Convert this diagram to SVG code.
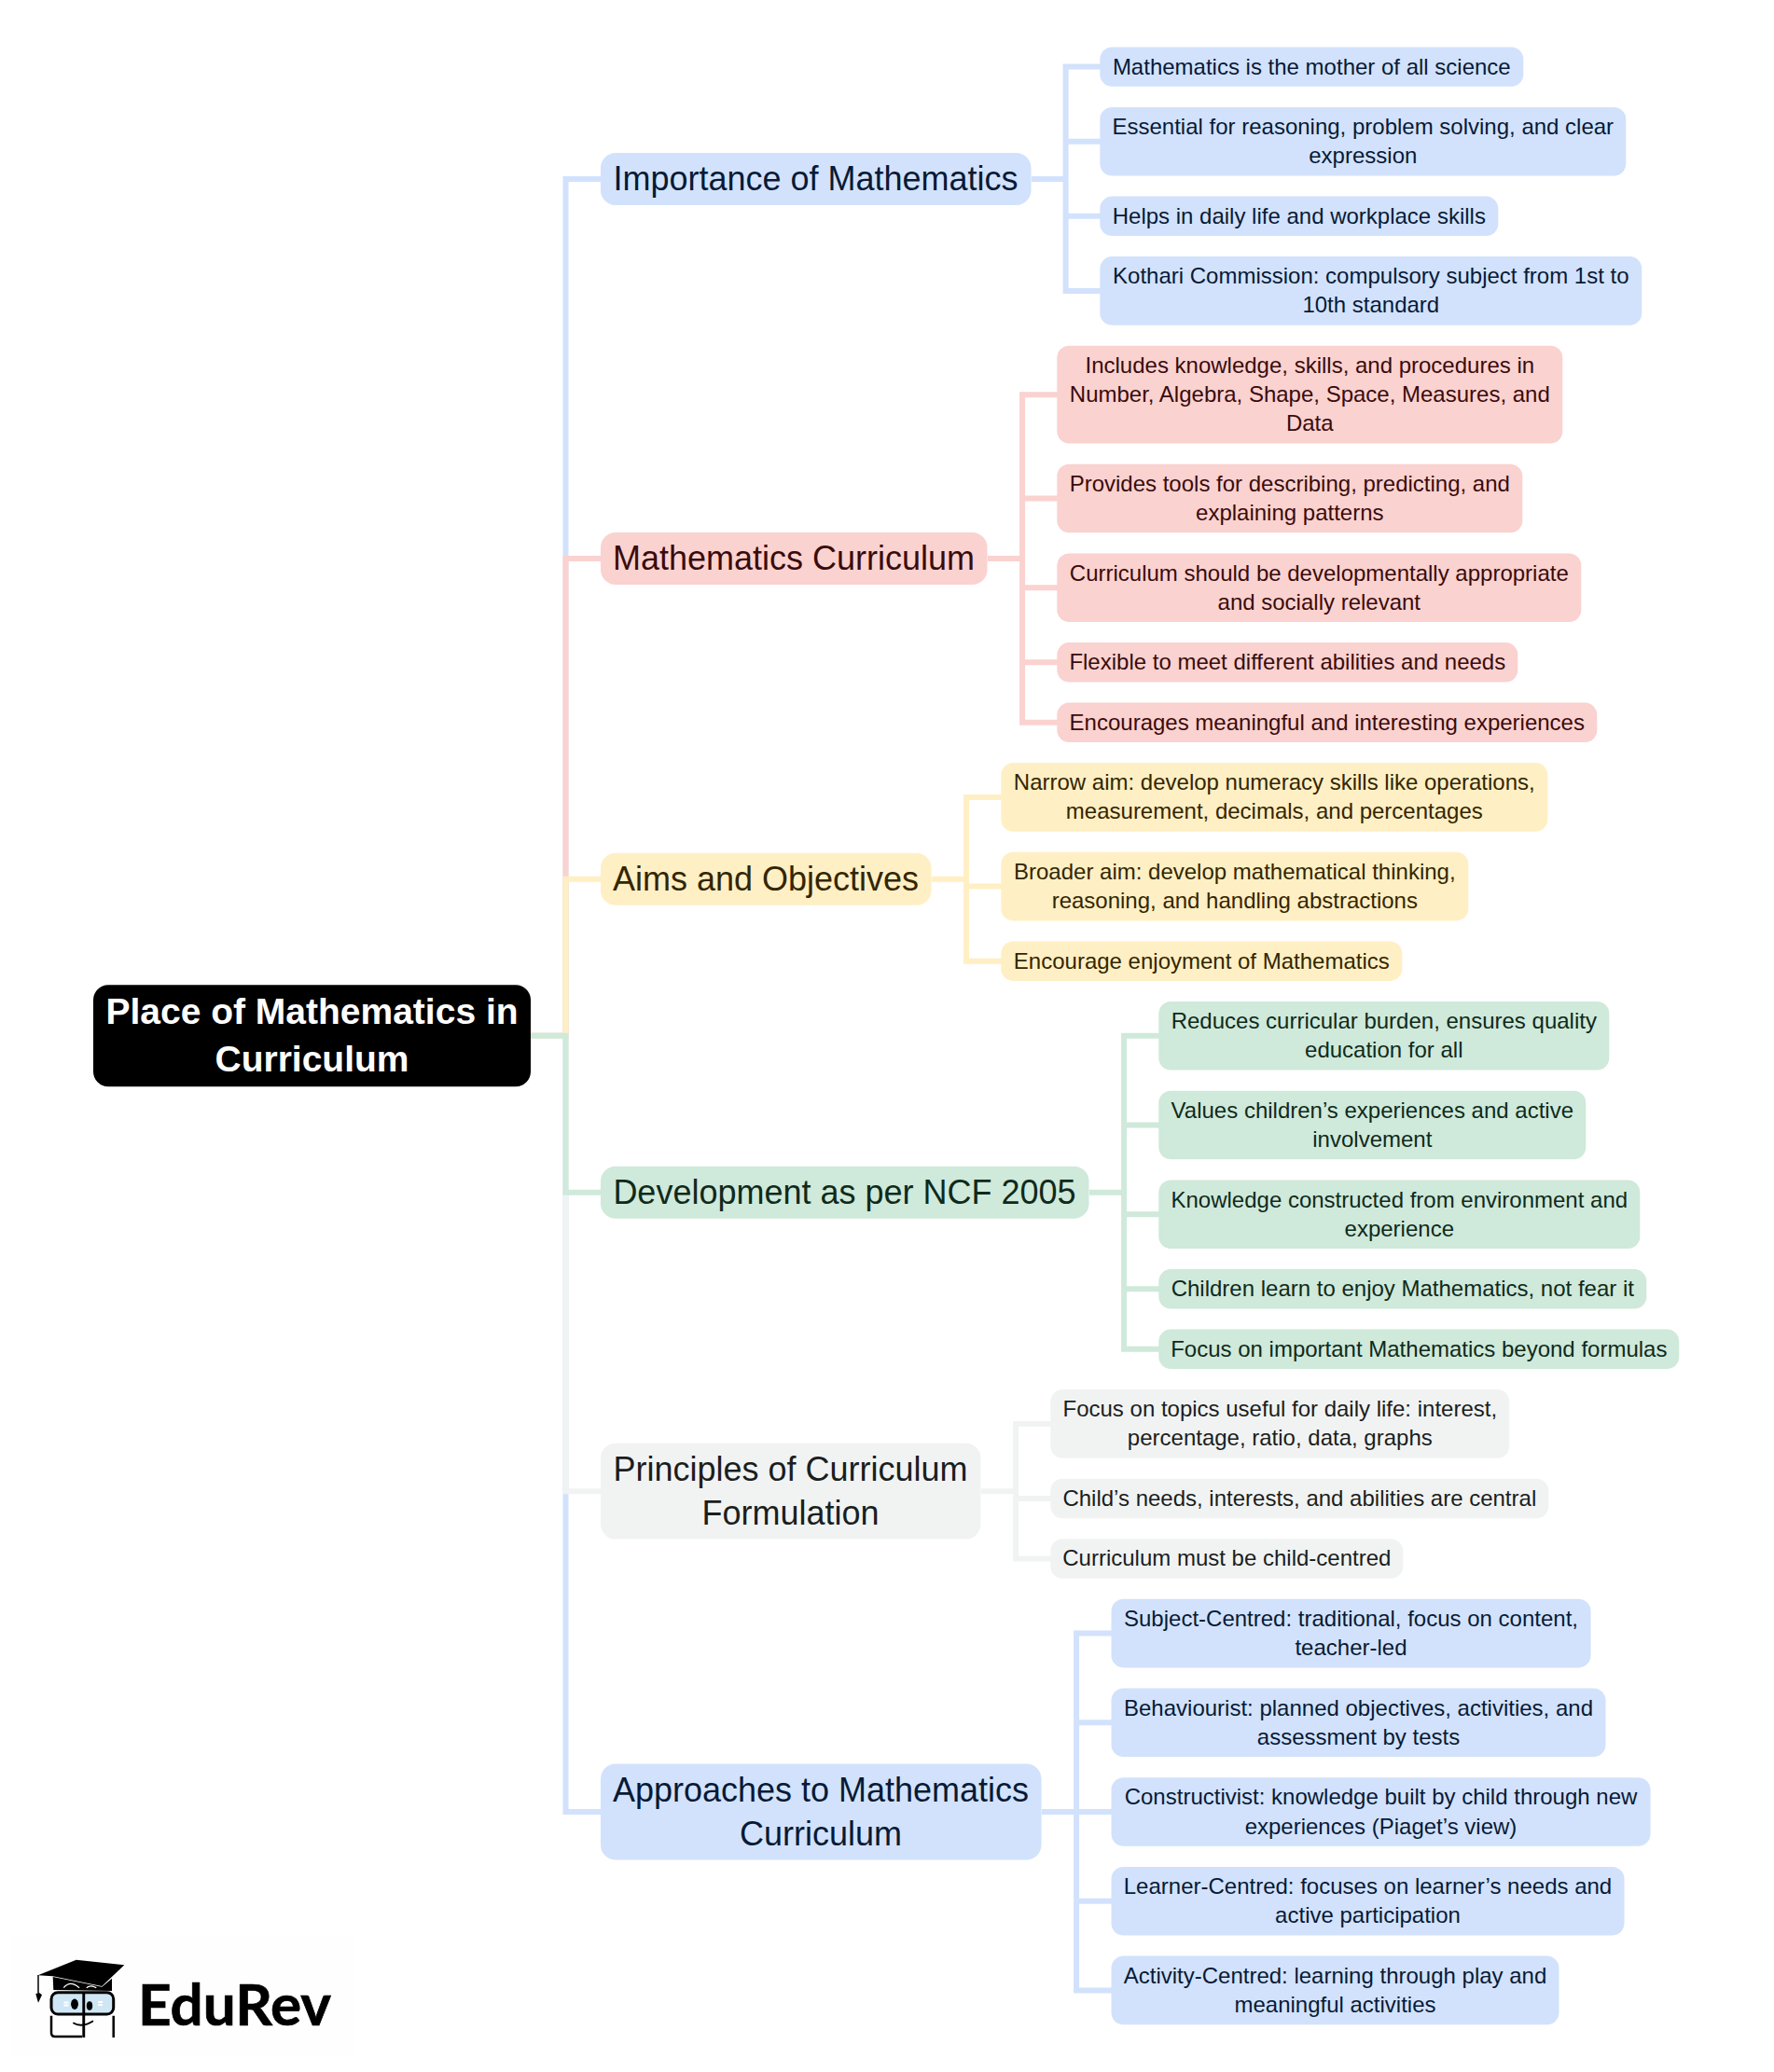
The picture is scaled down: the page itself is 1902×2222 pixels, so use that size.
<svg xmlns="http://www.w3.org/2000/svg" width="1902" height="2222" viewBox="0 0 1902 2222">
<style>
text{font-family:"Liberation Sans",Arial,sans-serif;text-anchor:middle;transform:translateY(.45px)}
.l{font-size:24px}.m{font-size:36px}
.r{font-size:39px;font-weight:700;fill:#fff}
.cn path{fill:none;stroke-width:6;stroke-linejoin:miter}
.blue rect{fill:#d2e2fc}.blue text{fill:#081a36}
.pink rect{fill:#fad2d0}.pink text{fill:#3a0b0b}
.yel rect{fill:#ffefc4}.yel text{fill:#332600}
.grn rect{fill:#cfe9da}.grn text{fill:#0f2a1b}
.gry rect{fill:#f1f3f3}.gry text{fill:#1b1e20}
.sb{stroke:#d2e2fc}.sp{stroke:#fad2d0}.sy{stroke:#ffefc4}.sg{stroke:#cfe9da}.sa{stroke:#f1f3f3}
.leaf rect{rx:13px}
</style>
<rect width="1902" height="2222" fill="#fff"/>
<g class="cn" id="connectors">
<path class="sb" d="M569 1110.7H606.5V1943H644"/>
<path class="sa" d="M569 1110.7H606.5V1599.2H644"/>
<path class="sb" d="M569 1110.7H606.5V191.9H644"/>
<path class="sp" d="M569 1110.7H606.5V599H644"/>
<path class="sy" d="M569 1110.7H606.5V942.8H644"/>
<path class="sg" d="M569 1110.7H606.5V1278.8H644"/>
<path class="sb" d="M1106 191.9H1142.6V71.6H1180M1106 191.9H1142.6V151.7H1180M1106 191.9H1142.6V231.8H1180M1106 191.9H1142.6V311.9H1180"/>
<path class="sp" d="M1059 599H1096.1V423.2H1134M1059 599H1096.1V534.5H1134M1059 599H1096.1V630.2H1134M1059 599H1096.1V710.3H1134M1059 599H1096.1V774.8H1134"/>
<path class="sy" d="M999 942.8H1036.1V854.9H1074M999 942.8H1036.1V950.6H1074M999 942.8H1036.1V1030.7H1074"/>
<path class="sg" d="M1168 1278.8H1205.1V1110.8H1243M1168 1278.8H1205.1V1206.5H1243M1168 1278.8H1205.1V1302.2H1243M1168 1278.8H1205.1V1382.3H1243M1168 1278.8H1205.1V1446.8H1243"/>
<path class="sa" d="M1052 1599.2H1089.1V1526.9H1127M1052 1599.2H1089.1V1607H1127M1052 1599.2H1089.1V1671.5H1127"/>
<path class="sb" d="M1117 1943H1154.1V1751.6H1192M1117 1943H1154.1V1943H1192M1117 1943H1154.1V1847.3H1192M1117 1943H1154.1V2038.7H1192M1117 1943H1154.1V2134.4H1192"/>
</g>
<g id="root"><rect x="100" y="1056.2" width="469" height="109" rx="16" fill="#000"/>
<text class="r" x="334.5" y="1098">Place of Mathematics in</text><text class="r" x="334.5" y="1148.7">Curriculum</text></g>

<g id="importance" class="blue"><rect x="644" y="164" width="461.5" height="56" rx="16"/><text class="m" x="874.5" y="203.4">Importance of Mathematics</text></g>
<g id="curriculum" class="pink"><rect x="644" y="571" width="414.5" height="56" rx="16"/><text class="m" x="851" y="610.7">Mathematics Curriculum</text></g>
<g id="aims" class="yel"><rect x="644" y="914.8" width="354.5" height="56" rx="16"/><text class="m" x="821" y="954.5">Aims and Objectives</text></g>
<g id="ncf" class="grn"><rect x="644" y="1250.8" width="523.5" height="56" rx="16"/><text class="m" x="905.5" y="1290.5">Development as per NCF 2005</text></g>
<g id="principles" class="gry"><rect x="644" y="1547.8" width="407.5" height="102.8" rx="16"/><text class="m" x="847.5" y="1587.5">Principles of Curriculum</text><text class="m" x="847.5" y="1634.3">Formulation</text></g>
<g id="approaches" class="blue"><rect x="644" y="1891.6" width="472.5" height="102.8" rx="16"/><text class="m" x="880" y="1931.3">Approaches to Mathematics</text><text class="m" x="880" y="1978.1">Curriculum</text></g>

<g id="i1" class="blue leaf"><rect x="1179.3" y="50.4" width="454" height="42.4"/><text class="l" x="1406.3" y="79.1">Mathematics is the mother of all science</text></g>
<g id="i2" class="blue leaf"><rect x="1179.3" y="114.9" width="564" height="73.6"/><text class="l" x="1461.3" y="143.6">Essential for reasoning, problem solving, and clear</text><text class="l" x="1461.3" y="174.8">expression</text></g>
<g id="i3" class="blue leaf"><rect x="1179.3" y="210.6" width="427" height="42.4"/><text class="l" x="1392.8" y="239.3">Helps in daily life and workplace skills</text></g>
<g id="i4" class="blue leaf"><rect x="1179.3" y="275.1" width="581" height="73.6"/><text class="l" x="1469.8" y="303.8">Kothari Commission: compulsory subject from 1st to</text><text class="l" x="1469.8" y="335">10th standard</text></g>

<g id="c1" class="pink leaf"><rect x="1133.3" y="370.8" width="542" height="104.8"/><text class="l" x="1404.3" y="399.5">Includes knowledge, skills, and procedures in</text><text class="l" x="1404.3" y="430.7">Number, Algebra, Shape, Space, Measures, and</text><text class="l" x="1404.3" y="461.9">Data</text></g>
<g id="c2" class="pink leaf"><rect x="1133.3" y="497.7" width="499" height="73.6"/><text class="l" x="1382.8" y="526.4">Provides tools for describing, predicting, and</text><text class="l" x="1382.8" y="557.6">explaining patterns</text></g>
<g id="c3" class="pink leaf"><rect x="1133.3" y="593.4" width="562" height="73.6"/><text class="l" x="1414.3" y="622.1">Curriculum should be developmentally appropriate</text><text class="l" x="1414.3" y="653.3">and socially relevant</text></g>
<g id="c4" class="pink leaf"><rect x="1133.3" y="689.1" width="494" height="42.4"/><text class="l" x="1380.3" y="717.8">Flexible to meet different abilities and needs</text></g>
<g id="c5" class="pink leaf"><rect x="1133.3" y="753.6" width="579" height="42.4"/><text class="l" x="1422.8" y="782.3">Encourages meaningful and interesting experiences</text></g>

<g id="a1" class="yel leaf"><rect x="1073.3" y="818.1" width="586" height="73.6"/><text class="l" x="1366.3" y="846.8">Narrow aim: develop numeracy skills like operations,</text><text class="l" x="1366.3" y="878">measurement, decimals, and percentages</text></g>
<g id="a2" class="yel leaf"><rect x="1073.3" y="913.8" width="501" height="73.6"/><text class="l" x="1323.8" y="942.5">Broader aim: develop mathematical thinking,</text><text class="l" x="1323.8" y="973.7">reasoning, and handling abstractions</text></g>
<g id="a3" class="yel leaf"><rect x="1073.3" y="1009.5" width="430" height="42.4"/><text class="l" x="1288.3" y="1038.2">Encourage enjoyment of Mathematics</text></g>

<g id="n1" class="grn leaf"><rect x="1242.3" y="1074" width="483" height="73.6"/><text class="l" x="1483.8" y="1102.7">Reduces curricular burden, ensures quality</text><text class="l" x="1483.8" y="1133.9">education for all</text></g>
<g id="n2" class="grn leaf"><rect x="1242.3" y="1169.7" width="458" height="73.6"/><text class="l" x="1471.3" y="1198.4">Values children’s experiences and active</text><text class="l" x="1471.3" y="1229.6">involvement</text></g>
<g id="n3" class="grn leaf"><rect x="1242.3" y="1265.4" width="516" height="73.6"/><text class="l" x="1500.3" y="1294.1">Knowledge constructed from environment and</text><text class="l" x="1500.3" y="1325.3">experience</text></g>
<g id="n4" class="grn leaf"><rect x="1242.3" y="1361.1" width="523" height="42.4"/><text class="l" x="1503.8" y="1389.8">Children learn to enjoy Mathematics, not fear it</text></g>
<g id="n5" class="grn leaf"><rect x="1242.3" y="1425.6" width="558" height="42.4"/><text class="l" x="1521.3" y="1454.3">Focus on important Mathematics beyond formulas</text></g>

<g id="p1" class="gry leaf"><rect x="1126.3" y="1490.1" width="492" height="73.6"/><text class="l" x="1372.3" y="1518.8">Focus on topics useful for daily life: interest,</text><text class="l" x="1372.3" y="1550">percentage, ratio, data, graphs</text></g>
<g id="p2" class="gry leaf"><rect x="1126.3" y="1585.8" width="534" height="42.4"/><text class="l" x="1393.3" y="1614.5">Child’s needs, interests, and abilities are central</text></g>
<g id="p3" class="gry leaf"><rect x="1126.3" y="1650.3" width="378" height="42.4"/><text class="l" x="1315.3" y="1679">Curriculum must be child-centred</text></g>

<g id="r1" class="blue leaf"><rect x="1191.5" y="1714.8" width="514" height="73.6"/><text class="l" x="1448.5" y="1743.5">Subject-Centred: traditional, focus on content,</text><text class="l" x="1448.5" y="1774.7">teacher-led</text></g>
<g id="r2" class="blue leaf"><rect x="1191.5" y="1810.5" width="530" height="73.6"/><text class="l" x="1456.5" y="1839.2">Behaviourist: planned objectives, activities, and</text><text class="l" x="1456.5" y="1870.4">assessment by tests</text></g>
<g id="r3" class="blue leaf"><rect x="1191.5" y="1906.2" width="578" height="73.6"/><text class="l" x="1480.5" y="1934.9">Constructivist: knowledge built by child through new</text><text class="l" x="1480.5" y="1966.1">experiences (Piaget’s view)</text></g>
<g id="r4" class="blue leaf"><rect x="1191.5" y="2001.9" width="550" height="73.6"/><text class="l" x="1466.5" y="2030.6">Learner-Centred: focuses on learner’s needs and</text><text class="l" x="1466.5" y="2061.8">active participation</text></g>
<g id="r5" class="blue leaf"><rect x="1191.5" y="2097.6" width="480" height="73.6"/><text class="l" x="1431.5" y="2126.3">Activity-Centred: learning through play and</text><text class="l" x="1431.5" y="2157.5">meaningful activities</text></g>

<g id="logo">
<rect x="10" y="2075" width="370" height="130" fill="#fefefe"/>
<path d="M56.7 2120L57.3 2134L120 2135V2121.7L109.3 2130.7Z" fill="#000"/>
<path d="M40.7 2118.3L81.7 2101.7L133.3 2107.3L109.3 2130L56.7 2119.3Z" fill="#000"/>
<path d="M41 2118V2137" stroke="#000" stroke-width="1.5" fill="none"/>
<path d="M38.3 2138.3L41.7 2136.7L45 2139.3L41 2147.7Z" fill="#000"/>
<path d="M68.3 2131.7Q75 2123 85 2131.7M92.7 2131.7Q97 2128 103.3 2131.7" stroke="#fff" stroke-width="1.2" fill="none"/>
<rect x="55" y="2136.7" width="66.7" height="23.3" rx="7" fill="#cfe6f5" stroke="#000" stroke-width="3"/>
<path d="M55 2161.7V2180Q55 2184 59 2184H88M121.7 2161.7V2185" stroke="#000" stroke-width="2.5" fill="none"/>
<path d="M88.3 2136H91.2V2185H88.3Z" fill="#000"/>
<path d="M68.5 2147.5h5M68.5 2150.5h5M105 2147h5M105 2150h5" stroke="#fff" stroke-width="1.8"/>
<ellipse cx="80" cy="2149.3" rx="3.9" ry="5.7" fill="#000"/><ellipse cx="96" cy="2151" rx="3.2" ry="4.7" fill="#000"/>
<path d="M78.3 2169.3Q88 2175 100 2167.3" stroke="#000" stroke-width="1.8" fill="none"/>
<text x="251.5" y="2171.5" style="font-family:Lato,'Noto Sans',sans-serif;font-weight:700;font-size:62px;fill:#000;stroke:#000;stroke-width:.7">EduRev</text>
</g>
</svg>
